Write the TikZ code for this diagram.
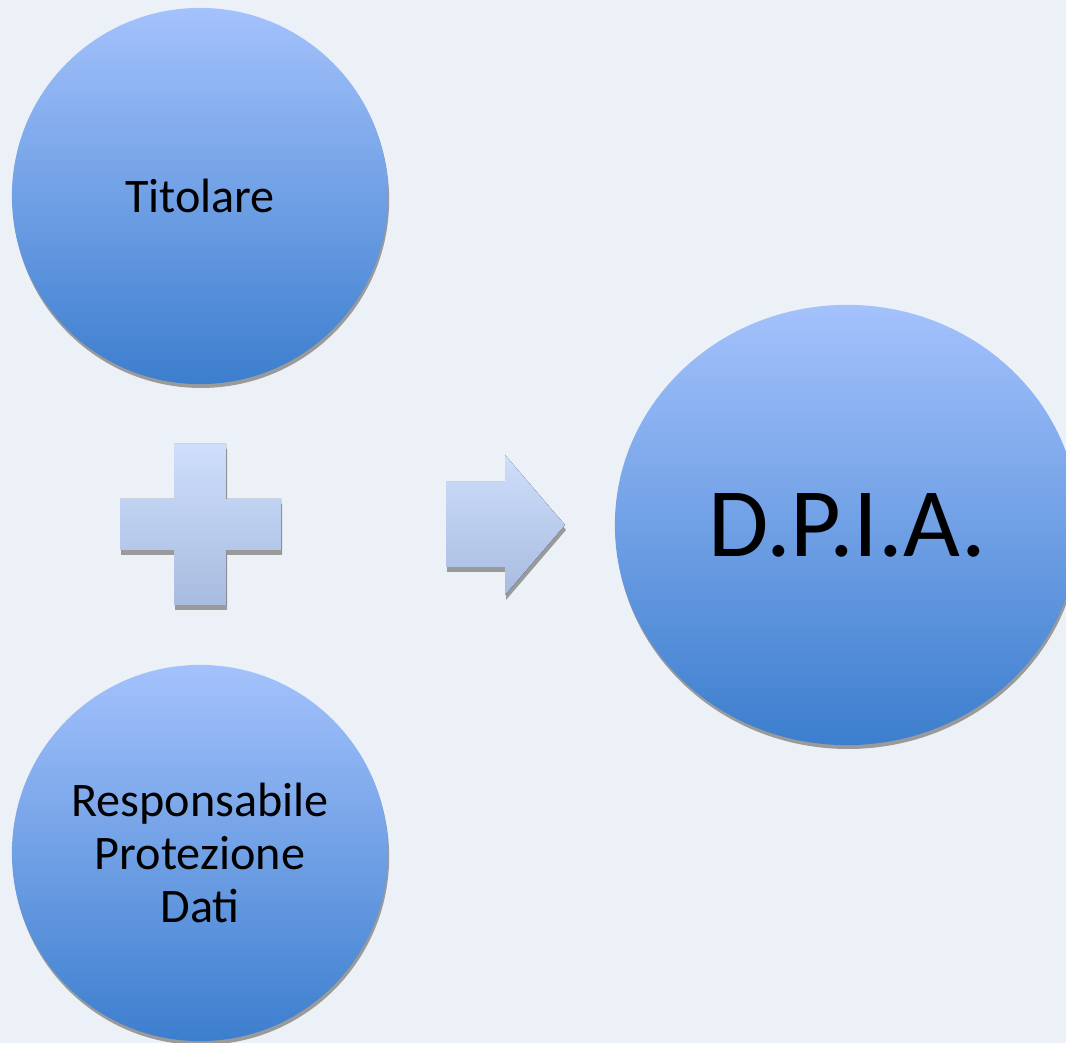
\documentclass[tikz,border=0pt]{standalone}
\usepackage{fontspec}
\setmainfont{Carlito}
\usetikzlibrary{shapes.geometric, shadows}

\definecolor{bgblue}{HTML}{ECF1F8}
\definecolor{balltop}{HTML}{A4C2FC}
\definecolor{ballbottom}{HTML}{3C7ECE}
\definecolor{signtop}{HTML}{CEDEFB}
\definecolor{signbottom}{HTML}{A8BCE0}
\definecolor{shadowgray}{HTML}{9A9A9A}

\begin{document}
\begin{tikzpicture}[x=0.01cm, y=-0.01cm,
    ball/.style={circle, minimum size=3.76cm, inner sep=0pt, align=center,
        top color=balltop, bottom color=ballbottom,
        general shadow={fill=shadowgray, shadow xshift=0.3pt, shadow yshift=-1.1pt},
        font=\fontsize{13.7}{15}\selectfont},
    sign/.style={top color=signtop, bottom color=signbottom,
        general shadow={fill=shadowgray, shadow xshift=0.3pt, shadow yshift=-1.4pt}}]

    % Background
    \useasboundingbox (0,0) rectangle (1066,1043);
    \fill[bgblue] (0,0) rectangle (1066,1043);
    \clip (0,0) rectangle (1066,1043);

    % The two circles on the left
    \node[ball] (titolare) at (200,196) {Titolare};
    \node[ball] (rpd) at (200,853) {Responsabile\\Protezione\\Dati};

    % Plus sign between them
    \fill[sign] (174,444) -- (226,444) -- (226,499) -- (281,499) -- (281,550)
        -- (226,550) -- (226,605) -- (174,605) -- (174,550) -- (120,550)
        -- (120,499) -- (174,499) -- cycle;

    % Block arrow
    \fill[sign] (446,482) -- (505,482) -- (505,455) -- (565,525) -- (505,595)
        -- (505,567) -- (446,567) -- cycle;

    % Result
    \node[ball, ellipse, minimum width=4.64cm, minimum height=4.4cm,
        font=\fontsize{27.9}{30}\selectfont] (dpia) at (847,525) {D.P.I.A.};

\end{tikzpicture}
\end{document}
